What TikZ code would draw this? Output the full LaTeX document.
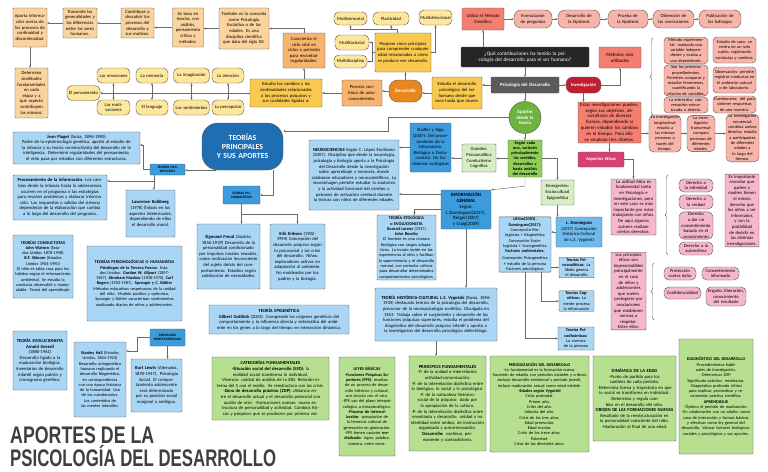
\documentclass[tikz,border=0pt]{standalone}
\usepackage{graphicx}
\usepackage{fontspec}
\setmainfont{Carlito}
\newfontfamily\titlefont{Liberation Sans}
\usetikzlibrary{arrows.meta,decorations.pathreplacing}

\definecolor{naranjaC}{HTML}{FAD39E}
\definecolor{amarilloP}{HTML}{FDE79C}
\definecolor{amarillo}{HTML}{F9C94F}
\definecolor{naranja}{HTML}{F7B46E}
\definecolor{naranjaF}{HTML}{E8871E}
\definecolor{salmon}{HTML}{F47E70}
\definecolor{salmonC}{HTML}{F9B4AA}
\definecolor{rojo}{HTML}{BF1F30}
\definecolor{rosa}{HTML}{F6B7CA}
\definecolor{rosaF}{HTML}{D6416F}
\definecolor{azulF}{HTML}{1F6DB2}
\definecolor{azulM}{HTML}{3B9BDD}
\definecolor{azulC}{HTML}{AAD6F5}
\definecolor{azulS}{HTML}{6FBBEE}
\definecolor{verde}{HTML}{6EB23F}
\definecolor{verdeM}{HTML}{8FCF57}
\definecolor{verdeC}{HTML}{D6EEC4}
\definecolor{verdeB}{HTML}{B6DF90}
\definecolor{gris}{HTML}{5A5A5A}
\definecolor{negro}{HTML}{262626}
\definecolor{titulo}{HTML}{3F3F3F}
\definecolor{linea}{HTML}{6A6A6A}
\definecolor{borde}{HTML}{555555}

\newcommand{\fs}{\fontsize{4.6}{5.6}\selectfont}
\newcommand{\fsd}{\fontsize{4.3}{5.3}\selectfont}

\begin{document}
\begin{tikzpicture}[x=1pt,y=-1pt,
  caja/.style={draw=borde, line width=0.4pt, align=center, inner sep=0.8pt, font=\fs, rounded corners=0.8pt},
  densa/.style={caja, font=\fsd},
  pildora/.style={caja, rounded corners=5pt},
  tam/.code 2 args={\pgfmathsetmacro\anchot{#1-2.5}\edef\tamtmp{\noexpand\tikzset{minimum width=#1pt, minimum height=#2pt, text width=\anchot pt}}\tamtmp},
  flecha/.style={draw=linea, line width=0.45pt, -{Stealth[length=2.4pt, width=2.2pt]}},
  dobleflecha/.style={draw=linea, line width=0.45pt, {Stealth[length=2.4pt, width=2.2pt]}-{Stealth[length=2.4pt, width=2.2pt]}},
  trazo/.style={draw=linea, line width=0.45pt},
  llave/.style={draw=linea, line width=0.45pt, decorate, decoration={brace, amplitude=3pt}},
  encabezado/.style={caja, fill=azulM, font=\fontsize{3.4}{4}\selectfont\bfseries}
]
\fill[white] (0,0) rectangle (768,471);
\useasboundingbox (0,0) rectangle (768,471);

% cadena superior izquierda
\node[caja, fill=naranjaC, tam={34}{39}] (aporta) at (30,27.5) {Aporta información acerca de los procesos de continuidad y discontinuidad.};
\node[caja, fill=naranjaC, tam={34}{30}] (transmite) at (80,23) {Transmite las generalidades y las diferencias entre los seres humanos.};
\node[caja, fill=naranjaC, tam={33}{30}] (contribuye) at (137.5,23) {Contribuye a descubrir los procesos del desarrollo y sus motivos.};
\node[caja, fill=naranjaC, tam={31}{39}] (sebasa) at (188,27.5) {Se basa en teorías, con análisis, pensamiento crítico y métodos.};
\node[caja, fill=naranjaC, tam={50}{41}] (tambien) at (244,28.5) {También es la conocida como Psicología Evolutiva o de las edades. Es una disciplina científica que data del siglo XX.};
\node[caja, fill=naranjaC, tam={33}{50}] (determina) at (31.5,93) {Determina similitudes fundamentales en cada etapa y a qué aspecto contribuyen las mismas.};
\foreach \a/\b in {tambien/sebasa, sebasa/contribuye, contribuye/transmite, transmite/aporta}
  \draw[flecha] (\a.west) -- (\b.east |- \a.west);
\draw[flecha] (aporta.south) -- (aporta.south |- determina.north);

% procesos psiquicos
\foreach \nom/\x/\w/\txt in {emociones/113.5/33/Las emociones, memoria/152/32/La memoria, imaginacion/191.5/36/La imaginación, atencion/228/32/La atención}
  \node[pildora, fill=amarilloP, tam={\w}{15}] (\nom) at (\x,75.5) {\txt};
\foreach \nom/\x/\w/\txt in {motivaciones/113.5/33/Las motivaciones, lenguaje/152/32/El lenguaje, sentimientos/191.5/36/Los sentimientos, percepcion/228/32/La percepción}
  \node[pildora, fill=amarilloP, tam={\w}{15}] (\nom) at (\x,107.5) {\txt};
\node[pildora, fill=amarilloP, tam={33}{15}] (pensamiento) at (83.5,93) {El pensamiento};
\node[caja, fill=amarillo, tam={72}{28}] (estudiacambios) at (286,93) {Estudia los cambios y las continuidades relacionadas a los procesos psíquicos y sus cualidades ligadas a:};
\draw[flecha] (estudiacambios.west) -- (pensamiento.east);
\foreach \a/\b in {emociones/motivaciones, memoria/lenguaje, imaginacion/sentimientos, atencion/percepcion}
  \draw[dobleflecha] (\a) -- (\b);

\node[caja, fill=naranja, tam={42}{35}] (caracteriza) at (304,50.5) {Caracteriza el ciclo vital en ciclos o períodos para encontrar regularidades.};
\draw[flecha] (estudiacambios.north -| caracteriza.south) -- (caracteriza.south);
\draw[flecha] (caracteriza.north) |- (tambien.east);
\node[caja, fill=naranja, tam={40}{26}] (proceso) at (362,93) {Proceso continuo de autoconocimiento.};
\node[caja, fill=naranjaF, text=white, rounded corners=9pt, font=\fontsize{4.8}{5.7}\selectfont\bfseries, tam={33}{22}] (desarrollo) at (405.5,91) {Desarrollo};
\node[caja, fill=amarillo, tam={50}{32}] (estudiades) at (457,93) {Estudia el desarrollo psicológico del ser humano desde que nace hasta que muere.};
\node[caja, fill=amarillo, tam={56}{39}] (propone) at (403,52.5) {Propone cinco principios para comprender cualquier edad relacionados a cómo se produce ese desarrollo.};
\draw[flecha] (proceso.west) -- (estudiacambios.east |- proceso.west);
\draw[flecha] (desarrollo.west) -- (proceso.east |- desarrollo.west);
\draw[flecha] (estudiades.west) -- (desarrollo.east |- estudiades.west);
\draw[flecha] (desarrollo.north) -- (desarrollo.north |- propone.south);

\node[pildora, fill=amarilloP, tam={33}{13}] (multisensorial) at (350.5,18.5) {Multisensorial};
\node[pildora, fill=amarilloP, tam={36}{13}] (plasticidad) at (391,18.5) {Plasticidad};
\node[pildora, fill=amarilloP, tam={33}{15}] (multidireccional) at (435.5,17.5) {Multidireccional};
\node[pildora, fill=amarilloP, tam={34}{15}] (multifactorial) at (352,42.5) {Multifactorial};
\node[pildora, fill=amarilloP, tam={33}{13}] (multidisciplina) at (350.5,61.5) {Multidisciplina};
\draw[flecha] (propone.west) -- (372,52.5) |- (multifactorial.east);
\draw[flecha] (372,52.5) |- (multidisciplina.east);
\draw[trazo] ([xshift=-6pt]propone.north) -- ++(0,-4) coordinate (arriba);
\draw[flecha] (arriba) -| (multisensorial.south);
\draw[flecha] (arriba) -| (plasticidad.south);
\draw[flecha] (propone.east) -| (multidireccional.south);

% psicologia del desarrollo
\node[caja, fill=negro, text=white, font=\fontsize{5.2}{6.2}\selectfont, tam={128}{20}] (pregunta) at (525,57) {¿Qué contribuciones ha tenido la psicología del desarrollo para el ser humano?};
\node[caja, fill=gris, text=white, font=\fontsize{4.8}{5.7}\selectfont\bfseries, tam={68}{16}] (psicdes) at (525,85) {Psicología del Desarrollo};
\node[caja, fill=rojo, text=white, rounded corners=7pt, font=\fontsize{4.6}{5.5}\selectfont\bfseries, tam={35}{16}] (investigacion) at (583.5,85) {Investigación};
\draw[flecha] (pregunta) -- (psicdes);
\draw[flecha] (psicdes.west) -- (estudiades.east |- psicdes.west);
\draw[flecha] (psicdes) -- (investigacion);

\node[caja, fill=salmon, tam={42}{22}] (metodo) at (483,19) {Utiliza el Método Científico};
\draw[flecha] (pregunta.north -| metodo.south) -- (metodo.south);
\foreach \nom/\x/\w/\txt in {formulacion/533/38/Formulación de preguntas, deshipotesis/579/42/Desarrollo de la hipótesis, prueba/628/40/Prueba de la hipótesis, obtencion/673.5/41/Obtención de las conclusiones, publicacion/720/42/Publicación de los hallazgos}
  \node[caja, fill=salmonC, rounded corners=7pt, tam={\w}{18}] (\nom) at (\x,19) {\txt};
\foreach \a/\b in {metodo/formulacion, formulacion/deshipotesis, deshipotesis/prueba, prueba/obtencion, obtencion/publicacion}
  \draw[flecha] (\a) -- (\b);

\node[caja, fill=salmon, font=\fontsize{4.8}{5.8}\selectfont, tam={42}{21}] (metodos) at (620,57.5) {Métodos más utilizados};
\draw[flecha] (investigacion.east) -| (metodos.south);
\draw[llave] (653,115) -- (653,38);
\node[densa, fill=salmonC, rounded corners=4pt, tam={44}{25}] (m1) at (686,50.5) {Método experimental: manipula una variable independiente y evalúa a una dependiente.};
\node[densa, fill=salmonC, rounded corners=4pt, tam={44}{29}] (m2) at (686,80.5) {Son los primeros procedimientos. Permiten comparar y estudiar fenómenos, cuantificando la relación de variables.};
\node[densa, fill=salmonC, rounded corners=4pt, tam={44}{16}] (m3) at (686,105) {La entrevista: conversación estructurada o abierta.};
\node[densa, fill=salmonC, rounded corners=4pt, tam={43}{26}] (m4) at (734.5,50) {Estudio de caso: se centra en un solo sujeto, registrando conductas y cambios.};
\node[densa, fill=salmonC, rounded corners=4pt, tam={43}{26}] (m5) at (734.5,80) {Observación: permite registrar conductas en el ambiente natural o de laboratorio.};
\node[densa, fill=salmonC, rounded corners=4pt, tam={43}{17}] (m6) at (734.5,104.5) {Cuestionario: útil para obtener respuestas de una muestra.};

\node[caja, fill=salmon, font=\fontsize{4.8}{5.8}\selectfont, tam={63}{41}] (estasinv) at (609.5,122.5) {Estas investigaciones pueden, según sus objetivos, desarrollarse de diversas formas, dependiendo si quieren estudiar los cambios en el tiempo. Para ello se emplean tres diseños.};
\draw[flecha] (investigacion.south) -- (investigacion.south |- estasinv.north);
\node[densa, fill=salmonC, rounded corners=5pt, tam={32}{21}] (d1) at (665,133.5) {La investigación longitudinal: estudia a las mismas personas a través del tiempo.};
\node[densa, fill=salmonC, rounded corners=5pt, tam={28}{21}] (d2) at (701,133.5) {La investigación transversal: compara personas de diferentes edades.};
\node[densa, fill=salmonC, rounded corners=5pt, tam={33}{30}] (d3) at (742.5,138) {La investigación secuencial: combina ambos diseños, estudia a participantes de diferentes edades a lo largo del tiempo.};
\draw[flecha] (estasinv.east |- d1.west) -- (d1.west);
\draw[flecha] (d1) -- (d2);
\draw[flecha] (d2.east) -- (d2.east -| d3.west);

% aspectos eticos
\node[caja, fill=rosaF, text=white, font=\fontsize{4.6}{5.5}\selectfont\bfseries, tam={46}{15}] (aspectos) at (601,159.5) {Aspectos éticos};
\draw[flecha] (estasinv.south) -- (estasinv.south |- aspectos.north);
\node[caja, fill=rosa, tam={45}{56}] (actitud) at (633.5,207) {La actitud ética es fundamental tanto en Psicología e investigaciones, pero en este caso es más importante por estar trabajando con niños. De aquí algunos autores realizan ciertos derechos:};
\draw[flecha] (aspectos.east) -| (actitud.north);
\draw[llave] (668,255) -- (668,175);
\node[pildora, fill=rosa, tam={34}{13}] (intimidad) at (696,185.5) {Derecho a la intimidad};
\node[pildora, fill=rosa, tam={34}{14}] (verdad) at (696,202) {Derecho a la verdad};
\node[pildora, fill=rosa, tam={34}{27}] (consentimiento) at (696,225.5) {Derecho a dar un consentimiento basado en el conocimiento};
\node[pildora, fill=rosa, tam={34}{13}] (autoestima) at (696,248.5) {Derecho a la autoestima};
\node[caja, fill=rosa, tam={34}{63}] (importante) at (742,210.5) {Es importante recordar que padres y madres tienen el mismo derecho que los niños a ser informados y con la posibilidad de decidir en las distintas investigaciones.};
\node[caja, fill=rosa, tam={35}{58}] (principioset) at (628.5,291) {Los principios éticos son imprescindibles principalmente en el caso de niños y adolescentes que suelen protegerse por asociaciones que establecen normas a respetar. Entre ellos:};
\draw[llave] (654,320) -- (654,263);
\node[pildora, fill=rosa, tam={32}{13}] (proteccion) at (680,273.5) {Protección contra daño};
\node[pildora, fill=rosa, tam={37}{13}] (consentinf) at (720.5,273.5) {Consentimiento informado};
\node[pildora, fill=rosa, tam={37}{12}] (confid) at (682.5,293) {Confidencialidad};
\node[pildora, fill=rosa, tam={40}{19}] (engano) at (726,296.5) {Engaño, liberación, conocimiento del resultado};

% teorias
\node[caja, fill=azulF, text=white, rounded corners=16pt, font=\fontsize{7.8}{8.9}\selectfont\bfseries, tam={81}{47}] (teorias) at (242.5,146.5) {TEORÍAS\\PRINCIPALES\\Y SUS APORTES};
\node[circle, draw=borde, line width=0.4pt, fill=verde, text=white, align=center, inner sep=0pt, minimum size=32pt, text width=26pt, font=\fontsize{4.8}{5.7}\selectfont\bfseries] (aportes) at (525,117.5) {Aportes desde la teoría};
\draw[flecha] (psicdes) -- (aportes);
\draw[flecha] (aportes.west) -- (388,117.5) -- (388,131) -- (teorias.east |- 0,131);
\node[caja, fill=verdeM, font=\fsd\bfseries, tam={34}{37}] (segun) at (525,158.5) {Según cada una, variarán principalmente los sentidos, desarrollos y hasta análisis del desarrollo};
\draw[flecha] (aportes) -- (segun);
\node[caja, fill=verdeC, tam={34}{28}] (grandes) at (479,158) {Grandes:\\Psicoanalítica\\Conductismo\\Cognitiva};
\node[caja, fill=verdeC, tam={33}{25}] (emergentes) at (557.5,192.5) {Emergentes:\\Sociocultural\\Epigenética};
\draw[flecha] (segun.west) -- (grandes.east |- segun.west);
\draw[flecha] (segun.east) -| (emergentes.north);
\node[caja, fill=azulM, tam={41}{49}] (shaffer) at (430.5,147.5) {Shaffer y Kipp (2007): Del procesamiento de la información. Biológica o Evolucionista. De los sistemas ecológicos};
\draw[flecha] (grandes.west) -- (shaffer.east |- grandes.west);
\node[caja, fill=azulC, tam={90}{70}] (neuro) at (354,175) {\textbf{NEUROCIENCIAS} Según C. López Escribano (2007). Disciplina que desde la neurología, psicología y biología aporta a la Psicología del Desarrollo desde la investigación sobre aprendizaje y memoria, donde colaboran educadores y neurocientíficos. La neuroimagen permite estudiar la anatomía y la actividad funcional del cerebro y patrones de activación cerebral durante la lectura con niños de diferentes edades.};
\draw[flecha] (shaffer.west) -- (neuro.east |- shaffer.west);
\node[caja, fill=azulM, font=\fontsize{4.8}{5.8}\selectfont, tam={50}{39}] (informacion) at (466,209.5) {\textbf{INFORMACIÓN GENERAL}\\Según: L.Domínguez(2017), Berger(2007) y Craig(2009)};
\draw[flecha] (segun.south) -- ++(0,9) -- (informacion.north east);
\draw[flecha] (informacion.west |- 0,194) -- (neuro.east |- 0,194);
\node[densa, fill=azulC, tam={59}{65}] (etologica) at (406.5,247.5) {\textbf{TEORÍA ETOLÓGICA o EVOLUCIONISTA}\\\textbf{Konrad Lorenz} (1937)\\\textbf{John Bowlby}\\El hombre es una criatura biológica con rasgos adaptativos. Lo innato incide en las experiencias al niño y facilitan la supervivencia y el desarrollo normal, con períodos críticos para desarrollar determinados comportamientos psicológicos.};
\draw[flecha] (informacion.west) -| ([xshift=8pt]etologica.north);
\node[caja, fill=azulC, tam={122}{53}] (historica) at (436,314.5) {\textbf{TEORÍA HISTÓRICA-CULTURAL L.S. Vygotski} (Rusia, 1896-1934) destacado teórico de la psicología del desarrollo, precursor de la neuropsicología soviética. Divulgada en 1963. Trabaja sobre el surgimiento y desarrollo de las funciones psíquicas superiores, estudia el problema del diagnóstico del desarrollo psíquico infantil y aporta a la investigación del desarrollo psicológico defectólogo.};
\draw[flecha] (informacion.south) -- (informacion.south |- historica.north);

\node[densa, fill=azulC, tam={52}{55}] (lkline) at (525,244.5) {\textbf{LKline(2005), Domínguez(2017):}\\Concepción Biologicista + Biogenética\\Concepción Sociologicista + Sociogenética\\\textbf{Factores ambientales.}\\[2pt]Concepción Psicogenética + estudio de la persona\\Factores psicológicos};
\node[caja, fill=azulS, tam={46}{30}] (ldominguez) at (579,232) {\textbf{L. Domínguez} (2017) Concepción Histórico-Cultural de L.S. Vygotski};
\draw[flecha] (emergentes.south) -- (emergentes.south |- ldominguez.north);
\draw[flecha] (ldominguez.west) -- (lkline.east |- ldominguez.west);
\node[densa, fill=azulC, tam={35}{19}] (teopsico) at (576.5,267.5) {\textbf{Teorías Psicoanalíticas:} La libido genera el desarrollo};
\node[densa, fill=azulC, tam={35}{19}] (teocog) at (576.5,301) {\textbf{Teorías Cognitivas:} La mente procesa la información};
\node[densa, fill=azulC, tam={36}{23}] (teohum) at (576,338.5) {\textbf{Teorías Psicodinámicas:} La vivencia de la persona};
\draw[flecha] (lkline.east |- teopsico.west) -- (teopsico.west);
\draw[flecha] ([xshift=16pt]lkline.south) |- (teocog.west);
\draw[flecha] (lkline.south) |- (teohum.west);

% lado izquierdo
\node[encabezado, tam={35}{11}] (cognitivistas) at (167.5,169.5) {TEORÍAS COGNITIVISTAS};
\draw[flecha] ([xshift=-27pt]teorias.south) -- (cognitivistas.east |- teorias.south);
\node[caja, fill=azulC, tam={127}{32}] (piaget) at (76.5,148) {\textbf{Jean Piaget} (Suiza, 1896-1980)\\Padre de la epistemología genética, aportó al estudio de la infancia y su teoría constructivista del desarrollo de la inteligencia. Determinó regularidades del pensamiento; el niño pasa por estadios con diferentes estructuras.};
\draw[flecha] (cognitivistas.west) -- (143,169.5) -- (143,145) -- (piaget.east |- 0,145);
\node[caja, fill=azulC, tam={94}{45}] (procesamiento) at (60,197.5) {\textbf{Procesamiento de la información.} Los cambios desde la infancia hasta la adolescencia ocurren en el programa o las estrategias para resolver problemas y elaborar información. Las respuestas o salidas del sistema dependerán de la elaboración que cambia a lo largo del desarrollo del programa.};
\draw[flecha] ([xshift=4pt]cognitivistas.south west) |- (procesamiento.east |- 0,181);
\node[caja, fill=azulC, tam={49}{47}] (kohlberg) at (150.5,213.5) {\textbf{Lawrence Kohlberg} (1978) Énfasis en los aspectos intelectuales, dependiendo de ellos el desarrollo moral.};
\draw[flecha] ([xshift=4pt]cognitivistas.south west) -- ([xshift=4pt]cognitivistas.south west |- kohlberg.north);
\node[densa, fill=azulC, tam={60}{63}] (conductistas) at (43,266.5) {\textbf{TEORÍAS CONDUCTISTAS}\\\textbf{John Watson} (Estados Unidos 1878-1958)\\\textbf{B.F. Skinner} (Estados Unidos 1904-1990)\\El niño es tabla rasa para los hábitos según el reforzamiento ambiental. Se estudia la conducta observable y manipulable. Teoría del aprendizaje.};
\node[densa, fill=azulC, tam={95}{75}] (personologicas) at (134.5,283.5) {\textbf{TEORÍAS PERSONOLÓGICAS O HUMANISTAS}\\\textbf{Psicólogos de la Tercera Fuerza.} Estados Unidos: \textbf{Gordon W. Allport} (1897-1967), \textbf{Abraham Maslow} (1908-1970), \textbf{Carl Rogers} (1902-1987). \textbf{Spranger y C. Bühler}\\Métodos educativos respetuosos de la unidad del niño. Modelo positivo y optimista. Spranger y Bühler caracterizan sentimientos analizando diarios de niños y adolescentes.};
\node[caja, fill=azulC, tam={54}{59}] (evolucionista) at (40,360.5) {\textbf{TEORÍA EVOLUCIONISTA}\\\textbf{Arnold Gessell}\\(1880-1961)\\Desarrollo ligado a la maduración biológica. Inventarios de desarrollo infantil según patrón y cronograma genético.};
\node[encabezado, tam={35}{17}] (norteamericana) at (167.5,337.5) {PSICOLOGÍA NORTEAMERICANA};
\node[densa, fill=azulC, tam={52}{75}] (stanley) at (100,379.5) {\textbf{Stanley Hall} (Estados Unidos, 1844-1924) Desarrollo ontogenético humano replicando el desarrollo filogenético, en correspondencia con una época histórica de la humanidad. Uso de los cuestionarios. Los contenidos de las mentes infantiles.};
\node[caja, fill=azulC, tam={51}{53}] (kurt) at (156.5,385.5) {\textbf{Kurt Lewin} (Alemania, 1890-1947). Psicología Social. El comportamiento adolescente será determinado por su posición social marginal o ambigua.};
\draw[flecha] (norteamericana.west) -- (137,337.5) -- (137,351) -- (stanley.east |- 0,351);
\draw[flecha] (norteamericana.south) -- (norteamericana.south |- kurt.north);

\node[encabezado, tam={37}{18}] (psicoanaliticas) at (241.5,195) {TEORÍAS PSICOANALÍTICAS};
\draw[flecha] ([xshift=31pt]teorias.south) |- (psicoanaliticas.east);
\node[caja, fill=azulC, tam={63}{65}] (freud) at (228.5,256.5) {\textbf{Sigmund Freud} (Austria, 1856-1939) Desarrollo de la personalidad condicionado por impulsos innatos sexuales, como motivación inconsciente del sujeto detrás del comportamiento. Estadios según satisfacción de necesidades.};
\node[caja, fill=azulC, tam={55}{65}] (erikson) at (297.5,256.5) {\textbf{Erik Erikson} (1902-1994) Concepción del desarrollo psíquico según lo psicosocial y las crisis del desarrollo. Niños: exploradores activos en adaptación al ambiente. No moldeados por los padres y la biología.};
\draw[flecha] (psicoanaliticas.south) -- (psicoanaliticas.south |- freud.north);
\draw[flecha] (psicoanaliticas.south) -- ++(0,10) -| (erikson.north);
\node[caja, fill=azulC, tam={140}{29}] (epigenetica) at (279,319.5) {\textbf{TEORÍA EPIGENÉTICA}\\\textbf{Gilbert Gottlieb} (2003). Comprende los orígenes genéticos del comportamiento y la influencia directa y sistemática del ambiente en los genes a lo largo del tiempo en interacción dinámica.};

% Vygotski
\node[caja, fill=verdeB, tam={117}{63}] (categorias) at (270.5,388.5) {\textbf{CATEGORÍAS FUNDAMENTALES}\\\textbf{-Situación social del desarrollo (SSD)}: la realidad social transforma lo individual.\\-Vivencia: unidad de análisis de la SSD. Relación interna del S con el medio. Se reestructura con las crisis.\\\textbf{-Zona de desarrollo próximo (ZDP)}: distancia entre el desarrollo actual y el desarrollo potencial con auxilio de otro. -Formaciones nuevas: nueva estructura de personalidad y actividad. Cambios físicos y psíquicos que se producen por primera vez.};
\node[densa, fill=verdeB, tam={56}{99}] (leyes) at (367,406.5) {\textbf{LEYES BÁSICAS}\\-\textbf{Funciones Psíquicas Superiores (FPS)}: resultan de un proceso de desarrollo histórico y cultural, son vínculo con el otro.\\-FPS van del plano interpsicológico a intrapsicológico.\\-\textbf{Proceso de internalización}: apropiación de la herencia cultural de generación en generación.\\-FPS tienen carácter \textbf{mediatizado}: signo, palabra, número, entre otros.};
\node[caja, fill=verdeB, tam={77}{95}] (principios) at (447.5,403.5) {\textbf{PRINCIPIOS FUNDAMENTALES}\\-P. de la unidad e interrelación actividad-comunicación.\\-P. de la interrelación dialéctica entre lo biológico, lo social y lo psicológico.\\-P. de la naturaleza histórico-social de lo psíquico: dado por la apropiación de la cultura.\\-P. de la interrelación dialéctica entre enseñanza y desarrollo: unidad y no identidad entre ambos, de instrucción organizada y autorrenovación.\\\textbf{Desarrollo:} continuo, permanente y contradictorio.};
\draw[flecha] (historica.south) -- (historica.south |- principios.north);
\node[densa, fill=verdeB, tam={99}{96}] (periodizacion) at (539.5,404) {\textbf{PERIODIZACIÓN DEL DESARROLLO}\\-Lo fundamental es la formación nueva.\\-Sucesión de edades con períodos estables y críticos: excluye desarrollo embrional y período juvenil, incluye maduración sexual como edad estable.\\-\textbf{Edades según Vygotski}\\Crisis postnatal.\\Primer año.\\Crisis del año.\\Infancia del año.\\Crisis de los tres años.\\Edad preescolar.\\Edad escolar.\\Crisis de los trece años.\\Pubertad.\\Crisis de los diecisiete años.};
\node[caja, fill=verdeB, tam={83}{85}] (dinamica) at (634.5,398.5) {\textbf{DINÁMICA DE LA EDAD}\\-Punto de partida para los cambios de cada período.\\-Determina forma y trayectoria en que lo social se transforma en individual.\\-Determina y regula cambios en el desarrollo del niño.\\\textbf{ORIGEN DE LAS FORMACIONES NUEVAS}\\Resultado de la reestructuración en la personalidad consciente del niño.\\-Maduración al final de una edad.};
\node[densa, fill=verdeB, tam={74}{115}] (diagnostico) at (716,396.5) {\textbf{DIAGNÓSTICO DEL DESARROLLO}\\-Procedimientos habituales de investigación.\\-Determinar ZDP.\\Significado práctico: enseñanza.\\-Diagnóstico profundo clínico para explicar, pronosticar y recomendar práctica científica.\\\textbf{APRENDIZAJE}\\-Óptimo el período de maduración.\\-En colaboración con un adulto, como caso de interacción y formas básicas y efectivas como ley general del desarrollo. Valorar factores biológicos, sociales y psicológicos y sus aportes.};

% titulo
\node[anchor=north west, align=left, text=titulo, inner sep=0pt, font=\titlefont\bfseries\fontsize{24}{21}\selectfont] (titulo) at (10,427) {\scalebox{0.74}[1]{APORTES DE LA}\\\scalebox{0.70}[1]{PSICOLOGÍA DEL DESARROLLO}};
\end{tikzpicture}
\end{document}
